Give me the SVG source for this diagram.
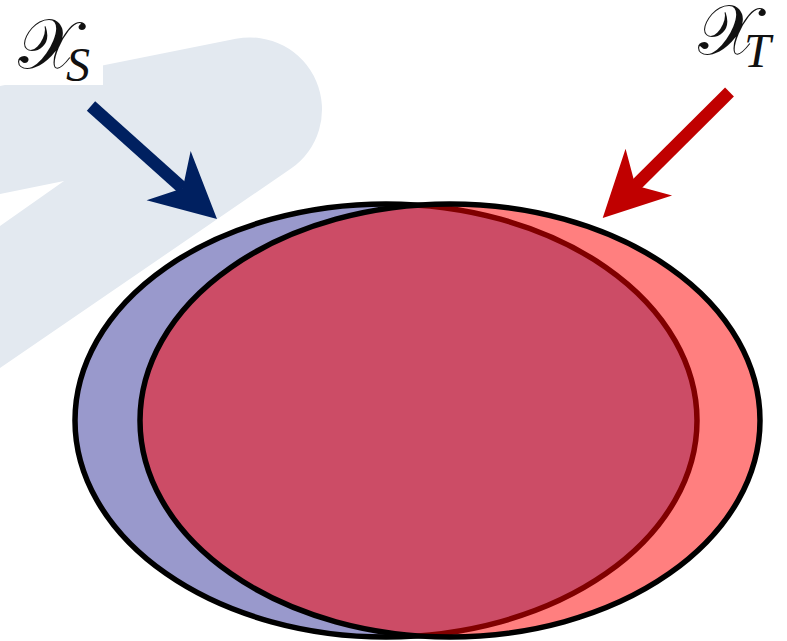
<svg xmlns="http://www.w3.org/2000/svg" xmlns:xlink="http://www.w3.org/1999/xlink" width="787" height="641" viewBox="0 0 787 641">
<style>
.dom{stroke:#000;stroke-width:5.5}
.s{fill:#9999CC}
.t{fill:#FF0000;fill-opacity:0.5}
.cal{font-family:"DejaVu Serif","DejaVu Sans","Noto Sans",serif;font-size:70px;fill:#111}
.sub{font-family:"Liberation Serif",serif;font-style:italic;font-size:48px;fill:#111}
.shaft{stroke-width:12.5;fill:none}
</style>
<defs>
<path id="head" d="M0,0 L-65,-33 L-46,0 L-65,33 Z"/>
</defs>
<g id="watermark">
<path d="M0,86 L235.9,38.8 A72,72 0 0 1 290.7,168.8 L0,368 L0,226 L64,181 L0,194 Z" fill="#E3E9F0"/>
</g>
<g id="domain-S">
<rect x="0" y="0" width="103" height="85" fill="#fff"/>
<text class="cal" x="18" y="68">𝒳</text>
<text class="sub" x="66" y="81">S</text>
<ellipse class="dom s" cx="386" cy="420.5" rx="311" ry="216.5"/>
</g>
<g id="domain-T">
<text class="cal" x="698" y="54">𝒳</text>
<text class="sub" x="744" y="67">T</text>
<ellipse class="dom t" cx="450" cy="420.5" rx="310" ry="216.5"/>
</g>
<g id="connectors">
<line class="shaft" x1="91" y1="106" x2="183" y2="188.5" stroke="#002060"/>
<use xlink:href="#head" transform="translate(217,219) rotate(41.9)" fill="#002060"/>
<line class="shaft" x1="729.5" y1="92" x2="635" y2="186" stroke="#C00000"/>
<use xlink:href="#head" transform="translate(602.7,218) rotate(135.2)" fill="#C00000"/>
</g>
</svg>
